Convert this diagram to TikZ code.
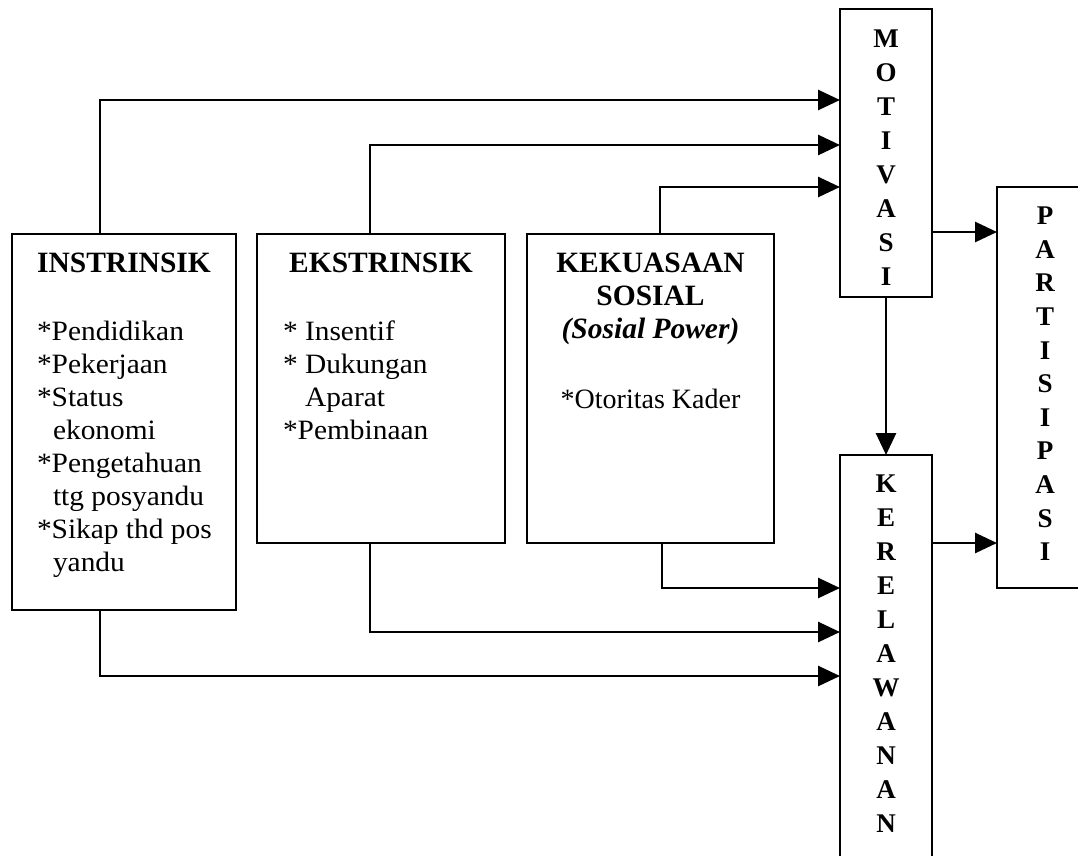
\documentclass[tikz,border=0pt]{standalone}
\usepackage{fontspec}
\setmainfont{Liberation Serif}
\newfontfamily\listfont{Liberation Serif}[FakeStretch=1.05]
\usetikzlibrary{positioning,arrows.meta}

\begin{document}
\begin{tikzpicture}[
  x=1pt, y=-1pt,
  box/.style={draw, line width=2.8pt, inner sep=0pt, outer sep=0pt},
  ttl/.style={font=\fontsize{29.5}{33}\selectfont\bfseries, inner sep=0pt, outer sep=0pt, align=center},
  items/.style={font=\listfont\fontsize{28}{33}\selectfont, inner sep=0pt, outer sep=0pt, align=left},
  vert/.style={font=\fontsize{27}{34}\selectfont\bfseries, inner sep=0pt, outer sep=0pt, align=center},
  arr/.style={line width=2.8pt, -{Triangle[length=22pt,width=20pt]}}
]
\useasboundingbox (0,0) rectangle (1078,855);

% factor boxes
\node[box, minimum width=224pt, minimum height=376pt] (ins) at (124,422) {};
\node[box, minimum width=248pt, minimum height=309pt] (eks) at (381,388.5) {};
\node[box, minimum width=247pt, minimum height=309pt] (kek) at (650.5,388.5) {};

\node[ttl, below=19pt of ins.north] (insT) {INSTRINSIK};
\node[ttl, below=19pt of eks.north] (eksT) {EKSTRINSIK};
\node[ttl, below=19pt of kek.north] (kekT) {KEKUASAAN\\SOSIAL\\\textit{(Sosial Power)}};

\node[items, below right=87pt and 25pt of ins.north west] (insL) {*Pendidikan\\*Pekerjaan\\*Status\\\hspace*{16pt}ekonomi\\*Pengetahuan\\\hspace*{16pt}ttg posyandu\\*Sikap thd pos\\\hspace*{16pt}yandu};
\node[items, below right=87pt and 26pt of eks.north west] (eksL) {* Insentif\\* Dukungan\\\phantom{* }Aparat\\*Pembinaan};
\node[items, font=\fontsize{28}{33}\selectfont, below=155pt of kek.north] (kekL) {*Otoritas Kader};

% outcome boxes
\node[box, minimum width=92pt, minimum height=288pt] (mot) at (886,153) {};
\node[box, minimum width=96pt, minimum height=401pt] (par) at (1045,387.5) {};
\node[box, minimum width=92pt, minimum height=420pt] (ker) at (886,665) {};

\node[vert, below=21pt of mot.north] (motT) {M\\O\\T\\I\\V\\A\\S\\I};
\node[vert, font=\fontsize{27}{33.6}\selectfont\bfseries, below=20pt of par.north] (parT) {P\\A\\R\\T\\I\\S\\I\\P\\A\\S\\I};
\node[vert, below=20pt of ker.north] (kerT) {K\\E\\R\\E\\L\\A\\W\\A\\N\\A\\N};

% connectors
\draw[arr] ([xshift=-24pt]ins.north) |- ([yshift=53pt]mot.west);
\draw[arr] ([xshift=-11pt]eks.north) |- ([yshift=8pt]mot.west);
\draw[arr] ([xshift=9.5pt]kek.north) |- ([yshift=-34pt]mot.west);
\draw[arr] ([xshift=11.5pt]kek.south) |- ([yshift=77pt]ker.west);
\draw[arr] ([xshift=-11pt]eks.south) |- ([yshift=33pt]ker.west);
\draw[arr] ([xshift=-24pt]ins.south) |- ([yshift=-11pt]ker.west);
\draw[arr] (mot.south) -- (ker.north);
\draw[arr] ([yshift=-79pt]mot.east) -- ([yshift=-79pt]mot.east -| par.west);
\draw[arr] ([yshift=122pt]ker.east) -- ([yshift=122pt]ker.east -| par.west);
\end{tikzpicture}
\end{document}
